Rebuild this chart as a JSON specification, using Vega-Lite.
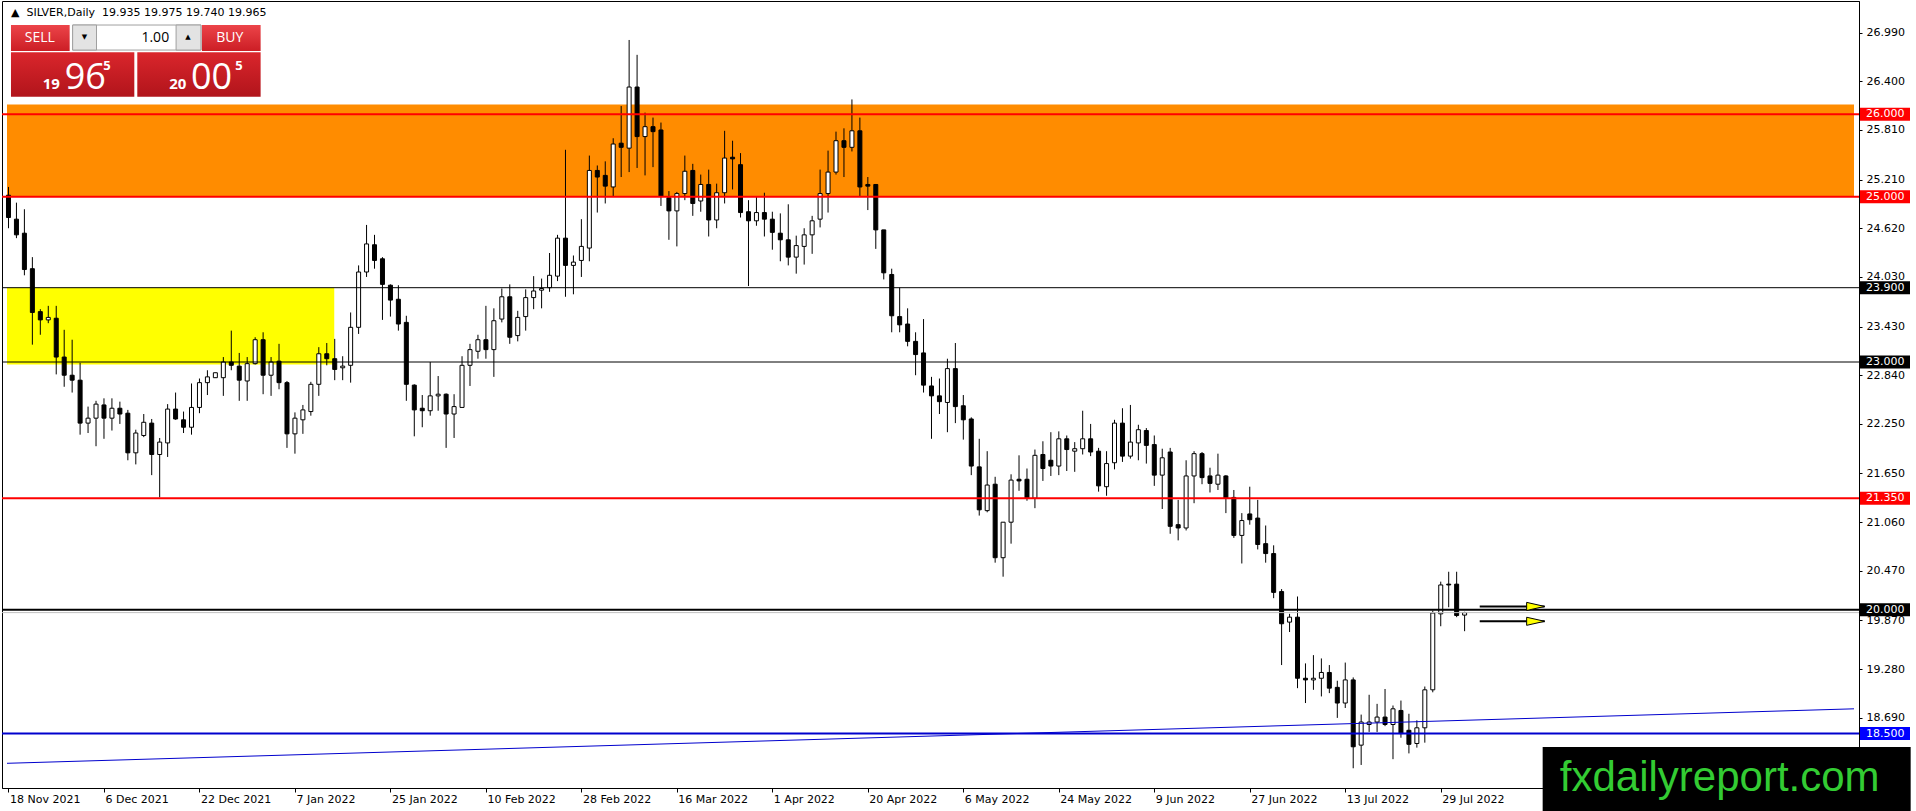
{
  "$schema": "https://vega.github.io/schema/vega-lite/v6.json",
  "autosize": "none",
  "width": 1857,
  "height": 787,
  "padding": {"left": 2, "top": 1, "right": 57, "bottom": 23},
  "background": "white",
  "data": {"values": [{}]},
  "datasets": {
    "candles": [
      {"i":0,"o":25.02,"h":25.12,"l":24.62,"c":24.75},
      {"i":1,"o":24.73,"h":24.93,"l":24.50,"c":24.54},
      {"i":2,"o":24.56,"h":24.85,"l":24.05,"c":24.12},
      {"i":3,"o":24.13,"h":24.27,"l":23.21,"c":23.60},
      {"i":4,"o":23.61,"h":23.64,"l":23.33,"c":23.51},
      {"i":5,"o":23.51,"h":23.68,"l":23.47,"c":23.54},
      {"i":6,"o":23.53,"h":23.68,"l":22.85,"c":23.06},
      {"i":7,"o":23.06,"h":23.39,"l":22.70,"c":22.84},
      {"i":8,"o":22.84,"h":23.27,"l":22.63,"c":22.78},
      {"i":9,"o":22.78,"h":22.99,"l":22.12,"c":22.26},
      {"i":10,"o":22.26,"h":22.46,"l":22.14,"c":22.32},
      {"i":11,"o":22.32,"h":22.53,"l":21.98,"c":22.49},
      {"i":12,"o":22.48,"h":22.56,"l":22.07,"c":22.32},
      {"i":13,"o":22.32,"h":22.56,"l":22.17,"c":22.44},
      {"i":14,"o":22.44,"h":22.52,"l":22.25,"c":22.37},
      {"i":15,"o":22.38,"h":22.42,"l":21.81,"c":21.90},
      {"i":16,"o":21.90,"h":22.18,"l":21.76,"c":22.14},
      {"i":17,"o":22.11,"h":22.37,"l":22.09,"c":22.27},
      {"i":18,"o":22.26,"h":22.31,"l":21.63,"c":21.88},
      {"i":19,"o":21.88,"h":22.08,"l":21.36,"c":22.03},
      {"i":20,"o":22.02,"h":22.49,"l":21.85,"c":22.43},
      {"i":21,"o":22.43,"h":22.63,"l":22.30,"c":22.31},
      {"i":22,"o":22.30,"h":22.40,"l":22.14,"c":22.21},
      {"i":23,"o":22.21,"h":22.74,"l":22.12,"c":22.45},
      {"i":24,"o":22.45,"h":22.80,"l":22.38,"c":22.75},
      {"i":25,"o":22.75,"h":22.90,"l":22.60,"c":22.82},
      {"i":26,"o":22.81,"h":22.87,"l":22.81,"c":22.87},
      {"i":27,"o":22.81,"h":23.06,"l":22.59,"c":23.00},
      {"i":28,"o":23.00,"h":23.38,"l":22.90,"c":22.96},
      {"i":29,"o":22.95,"h":23.11,"l":22.53,"c":22.78},
      {"i":30,"o":22.77,"h":23.06,"l":22.53,"c":22.98},
      {"i":31,"o":22.98,"h":23.30,"l":22.97,"c":23.27},
      {"i":32,"o":23.27,"h":23.36,"l":22.61,"c":22.84},
      {"i":33,"o":22.84,"h":23.06,"l":22.59,"c":23.00},
      {"i":34,"o":23.01,"h":23.22,"l":22.67,"c":22.75},
      {"i":35,"o":22.75,"h":22.77,"l":21.96,"c":22.13},
      {"i":36,"o":22.13,"h":22.39,"l":21.89,"c":22.32},
      {"i":37,"o":22.30,"h":22.48,"l":22.13,"c":22.42},
      {"i":38,"o":22.40,"h":22.76,"l":22.35,"c":22.73},
      {"i":39,"o":22.73,"h":23.18,"l":22.59,"c":23.10},
      {"i":40,"o":23.10,"h":23.23,"l":22.96,"c":23.04},
      {"i":41,"o":23.04,"h":23.28,"l":22.78,"c":22.91},
      {"i":42,"o":22.93,"h":23.07,"l":22.78,"c":22.95},
      {"i":43,"o":22.96,"h":23.60,"l":22.75,"c":23.42},
      {"i":44,"o":23.42,"h":24.17,"l":23.34,"c":24.09},
      {"i":45,"o":24.09,"h":24.66,"l":24.03,"c":24.43},
      {"i":46,"o":24.42,"h":24.54,"l":24.13,"c":24.23},
      {"i":47,"o":24.25,"h":24.27,"l":23.51,"c":23.94},
      {"i":48,"o":23.93,"h":23.94,"l":23.55,"c":23.75},
      {"i":49,"o":23.76,"h":23.93,"l":23.38,"c":23.46},
      {"i":50,"o":23.48,"h":23.56,"l":22.53,"c":22.73},
      {"i":51,"o":22.72,"h":22.73,"l":22.10,"c":22.42},
      {"i":52,"o":22.44,"h":22.60,"l":22.21,"c":22.41},
      {"i":53,"o":22.41,"h":23.00,"l":22.35,"c":22.59},
      {"i":54,"o":22.59,"h":22.83,"l":22.41,"c":22.61},
      {"i":55,"o":22.61,"h":22.62,"l":21.96,"c":22.37},
      {"i":56,"o":22.37,"h":22.61,"l":22.08,"c":22.46},
      {"i":57,"o":22.45,"h":23.07,"l":22.45,"c":22.96},
      {"i":58,"o":22.96,"h":23.22,"l":22.71,"c":23.15},
      {"i":59,"o":23.13,"h":23.33,"l":23.04,"c":23.27},
      {"i":60,"o":23.27,"h":23.68,"l":23.04,"c":23.15},
      {"i":61,"o":23.15,"h":23.65,"l":22.82,"c":23.50},
      {"i":62,"o":23.52,"h":23.89,"l":23.48,"c":23.79},
      {"i":63,"o":23.79,"h":23.94,"l":23.22,"c":23.30},
      {"i":64,"o":23.32,"h":23.62,"l":23.25,"c":23.54},
      {"i":65,"o":23.55,"h":23.88,"l":23.38,"c":23.78},
      {"i":66,"o":23.78,"h":24.04,"l":23.64,"c":23.86},
      {"i":67,"o":23.87,"h":24.01,"l":23.65,"c":23.89},
      {"i":68,"o":23.90,"h":24.32,"l":23.85,"c":24.05},
      {"i":69,"o":24.04,"h":24.54,"l":23.98,"c":24.50},
      {"i":70,"o":24.50,"h":25.57,"l":23.79,"c":24.17},
      {"i":71,"o":24.17,"h":24.29,"l":23.82,"c":24.21},
      {"i":72,"o":24.23,"h":24.73,"l":24.03,"c":24.40},
      {"i":73,"o":24.38,"h":25.50,"l":24.22,"c":25.32},
      {"i":74,"o":25.32,"h":25.38,"l":24.81,"c":25.24},
      {"i":75,"o":25.26,"h":25.43,"l":24.92,"c":25.13},
      {"i":76,"o":25.12,"h":25.71,"l":25.00,"c":25.64},
      {"i":77,"o":25.65,"h":26.10,"l":25.24,"c":25.60},
      {"i":78,"o":25.59,"h":26.90,"l":25.30,"c":26.33},
      {"i":79,"o":26.33,"h":26.72,"l":25.35,"c":25.73},
      {"i":80,"o":25.73,"h":26.02,"l":25.26,"c":25.85},
      {"i":81,"o":25.85,"h":25.96,"l":25.36,"c":25.79},
      {"i":82,"o":25.81,"h":25.90,"l":24.89,"c":25.01},
      {"i":83,"o":24.99,"h":25.07,"l":24.48,"c":24.83},
      {"i":84,"o":24.83,"h":25.06,"l":24.40,"c":25.04},
      {"i":85,"o":25.04,"h":25.50,"l":24.96,"c":25.31},
      {"i":86,"o":25.32,"h":25.40,"l":24.77,"c":24.92},
      {"i":87,"o":24.95,"h":25.27,"l":24.82,"c":25.15},
      {"i":88,"o":25.15,"h":25.33,"l":24.52,"c":24.72},
      {"i":89,"o":24.72,"h":25.16,"l":24.62,"c":25.05},
      {"i":90,"o":25.05,"h":25.80,"l":24.92,"c":25.47},
      {"i":91,"o":25.48,"h":25.68,"l":25.09,"c":25.46},
      {"i":92,"o":25.39,"h":25.53,"l":24.75,"c":24.81},
      {"i":93,"o":24.82,"h":24.96,"l":23.92,"c":24.71},
      {"i":94,"o":24.71,"h":25.01,"l":24.65,"c":24.81},
      {"i":95,"o":24.81,"h":25.05,"l":24.52,"c":24.73},
      {"i":96,"o":24.73,"h":24.82,"l":24.36,"c":24.57},
      {"i":97,"o":24.56,"h":24.80,"l":24.22,"c":24.48},
      {"i":98,"o":24.48,"h":24.91,"l":24.17,"c":24.27},
      {"i":99,"o":24.27,"h":24.53,"l":24.07,"c":24.41},
      {"i":100,"o":24.40,"h":24.62,"l":24.18,"c":24.54},
      {"i":101,"o":24.54,"h":24.77,"l":24.31,"c":24.71},
      {"i":102,"o":24.73,"h":25.33,"l":24.63,"c":25.04},
      {"i":103,"o":25.04,"h":25.56,"l":24.81,"c":25.30},
      {"i":104,"o":25.30,"h":25.79,"l":25.27,"c":25.68},
      {"i":105,"o":25.68,"h":25.83,"l":25.24,"c":25.60},
      {"i":106,"o":25.60,"h":26.18,"l":25.55,"c":25.80},
      {"i":107,"o":25.80,"h":25.96,"l":25.01,"c":25.12},
      {"i":108,"o":25.15,"h":25.24,"l":24.84,"c":25.13},
      {"i":109,"o":25.15,"h":25.15,"l":24.37,"c":24.60},
      {"i":110,"o":24.60,"h":24.60,"l":24.00,"c":24.08},
      {"i":111,"o":24.06,"h":24.13,"l":23.36,"c":23.56},
      {"i":112,"o":23.55,"h":23.90,"l":23.36,"c":23.45},
      {"i":113,"o":23.46,"h":23.65,"l":23.19,"c":23.25},
      {"i":114,"o":23.25,"h":23.36,"l":22.84,"c":23.09},
      {"i":115,"o":23.11,"h":23.52,"l":22.63,"c":22.72},
      {"i":116,"o":22.71,"h":22.82,"l":22.07,"c":22.59},
      {"i":117,"o":22.59,"h":22.80,"l":22.37,"c":22.52},
      {"i":118,"o":22.51,"h":23.04,"l":22.15,"c":22.92},
      {"i":119,"o":22.92,"h":23.23,"l":22.26,"c":22.46},
      {"i":120,"o":22.47,"h":22.60,"l":22.06,"c":22.30},
      {"i":121,"o":22.31,"h":22.33,"l":21.63,"c":21.74},
      {"i":122,"o":21.73,"h":22.07,"l":21.14,"c":21.21},
      {"i":123,"o":21.20,"h":21.92,"l":21.18,"c":21.51},
      {"i":124,"o":21.52,"h":21.61,"l":20.57,"c":20.63},
      {"i":125,"o":20.63,"h":21.06,"l":20.40,"c":21.06},
      {"i":126,"o":21.06,"h":21.64,"l":20.80,"c":21.57},
      {"i":127,"o":21.58,"h":21.87,"l":21.44,"c":21.56},
      {"i":128,"o":21.58,"h":21.71,"l":21.32,"c":21.35},
      {"i":129,"o":21.35,"h":21.94,"l":21.23,"c":21.87},
      {"i":130,"o":21.88,"h":22.04,"l":21.56,"c":21.71},
      {"i":131,"o":21.81,"h":22.15,"l":21.62,"c":21.74},
      {"i":132,"o":21.74,"h":22.16,"l":21.63,"c":22.07},
      {"i":133,"o":22.07,"h":22.11,"l":21.68,"c":21.94},
      {"i":134,"o":21.92,"h":22.03,"l":21.67,"c":21.95},
      {"i":135,"o":21.95,"h":22.41,"l":21.88,"c":22.07},
      {"i":136,"o":22.07,"h":22.25,"l":21.86,"c":21.91},
      {"i":137,"o":21.92,"h":21.96,"l":21.43,"c":21.50},
      {"i":138,"o":21.49,"h":21.92,"l":21.38,"c":21.77},
      {"i":139,"o":21.78,"h":22.30,"l":21.70,"c":22.26},
      {"i":140,"o":22.26,"h":22.44,"l":21.79,"c":21.86},
      {"i":141,"o":21.86,"h":22.48,"l":21.83,"c":22.03},
      {"i":142,"o":22.02,"h":22.24,"l":21.81,"c":22.18},
      {"i":143,"o":22.17,"h":22.20,"l":21.77,"c":21.99},
      {"i":144,"o":22.00,"h":22.11,"l":21.50,"c":21.63},
      {"i":145,"o":21.63,"h":21.95,"l":21.22,"c":21.84},
      {"i":146,"o":21.91,"h":21.96,"l":20.92,"c":21.01},
      {"i":147,"o":21.03,"h":21.33,"l":20.84,"c":20.99},
      {"i":148,"o":20.99,"h":21.81,"l":20.96,"c":21.62},
      {"i":149,"o":21.62,"h":21.92,"l":21.29,"c":21.89},
      {"i":150,"o":21.89,"h":21.91,"l":21.52,"c":21.60},
      {"i":151,"o":21.62,"h":21.72,"l":21.42,"c":21.53},
      {"i":152,"o":21.52,"h":21.89,"l":21.45,"c":21.63},
      {"i":153,"o":21.62,"h":21.63,"l":21.17,"c":21.35},
      {"i":154,"o":21.36,"h":21.45,"l":20.87,"c":20.90},
      {"i":155,"o":20.90,"h":21.17,"l":20.56,"c":21.08},
      {"i":156,"o":21.16,"h":21.49,"l":21.03,"c":21.09},
      {"i":157,"o":21.11,"h":21.33,"l":20.73,"c":20.79},
      {"i":158,"o":20.80,"h":21.02,"l":20.57,"c":20.68},
      {"i":159,"o":20.68,"h":20.78,"l":20.14,"c":20.21},
      {"i":160,"o":20.22,"h":20.25,"l":19.33,"c":19.83},
      {"i":161,"o":19.85,"h":19.95,"l":19.73,"c":19.91},
      {"i":162,"o":19.91,"h":20.16,"l":19.05,"c":19.17},
      {"i":163,"o":19.17,"h":19.35,"l":18.87,"c":19.15},
      {"i":164,"o":19.15,"h":19.45,"l":19.03,"c":19.17},
      {"i":165,"o":19.17,"h":19.41,"l":18.95,"c":19.24},
      {"i":166,"o":19.24,"h":19.33,"l":18.99,"c":19.05},
      {"i":167,"o":19.06,"h":19.14,"l":18.69,"c":18.87},
      {"i":168,"o":18.87,"h":19.36,"l":18.81,"c":19.15},
      {"i":169,"o":19.15,"h":19.18,"l":18.08,"c":18.34},
      {"i":170,"o":18.36,"h":18.73,"l":18.12,"c":18.64},
      {"i":171,"o":18.61,"h":18.97,"l":18.52,"c":18.64},
      {"i":172,"o":18.64,"h":18.86,"l":18.52,"c":18.70},
      {"i":173,"o":18.70,"h":19.04,"l":18.59,"c":18.61},
      {"i":174,"o":18.61,"h":18.84,"l":18.19,"c":18.80},
      {"i":175,"o":18.78,"h":18.90,"l":18.45,"c":18.50},
      {"i":176,"o":18.54,"h":18.74,"l":18.26,"c":18.37},
      {"i":177,"o":18.38,"h":18.66,"l":18.33,"c":18.57},
      {"i":178,"o":18.57,"h":19.07,"l":18.39,"c":19.03},
      {"i":179,"o":19.03,"h":19.99,"l":19.00,"c":19.96},
      {"i":180,"o":19.95,"h":20.34,"l":19.80,"c":20.30},
      {"i":181,"o":20.31,"h":20.46,"l":20.03,"c":20.30},
      {"i":182,"o":20.31,"h":20.46,"l":19.91,"c":19.93},
      {"i":183,"o":19.935,"h":19.975,"l":19.74,"c":19.965}
    ],
    "levels": [
      {"price": 26.0, "kind": "resistance"},
      {"price": 25.0, "kind": "resistance"},
      {"price": 23.9, "kind": "range"},
      {"price": 23.0, "kind": "range"},
      {"price": 21.35, "kind": "resistance"},
      {"price": 20.0, "kind": "pivot"},
      {"price": 18.5, "kind": "support"}
    ],
    "zones": [
      {"zone": "supply", "t0": -0.1875, "t1": 231.9375, "lo": 25.0, "hi": 26.12},
      {"zone": "demand", "t0": -0.1875, "t1": 40.94, "lo": 22.97, "hi": 23.9}
    ],
    "trend": [
      {"t0": -0.1875, "p0": 18.14, "t1": 231.9375, "p1": 18.80}
    ],
    "arrows": [
      {"t0": 184.9, "t1": 193.06, "price": 20.04},
      {"t0": 184.9, "t1": 193.06, "price": 19.86}
    ]
  },
  "layer": [
    {
      "data": {"name": "zones"},
      "mark": {"type": "rect"},
      "encoding": {
        "x": {"field": "t0", "type": "quantitative", "title": null},
        "x2": {"field": "t1"},
        "y": {"field": "lo", "type": "quantitative", "title": null},
        "y2": {"field": "hi"},
        "fill": {"condition": {"test": "datum.zone == 'supply'", "value": "#FF8C00"}, "value": "#FFFF00"}
      }
    },
    {
      "data": {"name": "candles"},
      "mark": {"type": "rule", "color": "black", "strokeWidth": 1},
      "encoding": {
        "x": {
          "field": "i",
          "type": "quantitative",
          "title": null,
          "scale": {"domain": [-0.1875, 231.9375], "nice": false, "zero": false},
          "axis": {
            "values": [0, 12, 24, 36, 48, 60, 72, 84, 96, 108, 120, 132, 144, 156, 168, 180],
            "labelExpr": "['18 Nov 2021','6 Dec 2021','22 Dec 2021','7 Jan 2022','25 Jan 2022','10 Feb 2022','28 Feb 2022','16 Mar 2022','1 Apr 2022','20 Apr 2022','6 May 2022','24 May 2022','9 Jun 2022','27 Jun 2022','13 Jul 2022','29 Jul 2022'][round(datum.value / 12)]",
            "labelAlign": "left",
            "labelBaseline": "top",
            "labelOffset": 1,
            "tickSize": 4,
            "labelPadding": 1,
            "labelFlush": false,
            "labelOverlap": false
          }
        },
        "y": {
          "field": "l",
          "type": "quantitative",
          "title": null,
          "scale": {"domain": [17.841, 27.372], "nice": false, "zero": false},
          "axis": {
            "orient": "right",
            "values": [26.99, 26.4, 25.81, 25.21, 24.62, 24.03, 23.43, 22.84, 22.25, 21.65, 21.06, 20.47, 19.87, 19.28, 18.69],
            "format": ".3f",
            "tickSize": 3,
            "labelPadding": 4,
            "labelAlign": "left",
            "labelBaseline": "middle",
            "labelFlush": false,
            "labelOverlap": false
          }
        },
        "y2": {"field": "h"}
      }
    },
    {
      "data": {"name": "candles"},
      "mark": {"type": "bar", "width": 4, "stroke": "black", "strokeWidth": 1},
      "encoding": {
        "x": {"field": "i", "type": "quantitative", "title": null},
        "y": {"field": "o", "type": "quantitative", "title": null},
        "y2": {"field": "c"},
        "fill": {"condition": {"test": "datum.c < datum.o", "value": "black"}, "value": "white"}
      }
    },
    {
      "data": {"name": "levels"},
      "mark": {"type": "rule"},
      "encoding": {
        "y": {"field": "price", "type": "quantitative", "title": null},
        "stroke": {
          "condition": [
            {"test": "datum.kind == 'resistance'", "value": "#FF0000"},
            {"test": "datum.kind == 'support'", "value": "#0000CD"}
          ],
          "value": "black"
        },
        "strokeWidth": {"condition": {"test": "datum.kind == 'range'", "value": 1}, "value": 2}
      }
    },
    {
      "data": {"name": "candles"},
      "transform": [{"filter": "datum.i == 183"}],
      "mark": {"type": "rule", "color": "#C0C0C0", "strokeWidth": 1},
      "encoding": {
        "y": {"field": "c", "type": "quantitative", "title": null}
      }
    },
    {
      "data": {"name": "trend"},
      "mark": {"type": "rule", "color": "#0000CD", "strokeWidth": 1},
      "encoding": {
        "x": {"field": "t0", "type": "quantitative", "title": null},
        "x2": {"field": "t1"},
        "y": {"field": "p0", "type": "quantitative", "title": null},
        "y2": {"field": "p1"}
      }
    },
    {
      "data": {"name": "arrows"},
      "mark": {"type": "rule", "color": "black", "strokeWidth": 2},
      "encoding": {
        "x": {"field": "t0", "type": "quantitative", "title": null},
        "x2": {"field": "t1"},
        "y": {"field": "price", "type": "quantitative", "title": null}
      }
    },
    {
      "data": {"name": "arrows"},
      "mark": {"type": "point", "shape": "M-2,-0.45L0,0L-2,0.45Z", "size": 324, "filled": true, "fill": "#FFFF00", "stroke": "black", "strokeWidth": 1, "opacity": 1},
      "encoding": {
        "x": {"field": "t1", "type": "quantitative", "title": null},
        "y": {"field": "price", "type": "quantitative", "title": null}
      }
    },
    {
      "data": {"name": "levels"},
      "mark": {"type": "point", "shape": "M-1,-0.26H1V0.26H-1Z", "size": 2500, "filled": true, "opacity": 1, "strokeWidth": 0, "xOffset": 26},
      "encoding": {
        "x": {"value": "width"},
        "y": {"field": "price", "type": "quantitative", "title": null},
        "fill": {
          "condition": [
            {"test": "datum.kind == 'resistance'", "value": "#FF0000"},
            {"test": "datum.kind == 'support'", "value": "#0000FF"}
          ],
          "value": "black"
        }
      }
    },
    {
      "data": {"name": "levels"},
      "mark": {"type": "text", "align": "left", "baseline": "middle", "dx": 7, "font": "DejaVu Sans", "fontSize": 11, "color": "white"},
      "encoding": {
        "x": {"value": "width"},
        "y": {"field": "price", "type": "quantitative", "title": null},
        "text": {"field": "price", "type": "quantitative", "format": ".3f"}
      }
    },
    {
      "mark": {"type": "text", "text": "▲\u00a0\u00a0SILVER,Daily\u00a0 19.935 19.975 19.740 19.965", "align": "left", "baseline": "middle", "font": "DejaVu Sans", "fontSize": 11, "color": "black"},
      "encoding": {"x": {"datum": 0.31}, "y": {"datum": 27.227}}
    },
    {
      "mark": {"type": "rect", "fill": {"gradient": "linear", "x1": 0, "y1": 0, "x2": 0, "y2": 1, "stops": [{"offset": 0, "color": "#EC4449"}, {"offset": 1, "color": "#CC1E25"}]}},
      "encoding": {"x": {"datum": 0.3125}, "x2": {"datum": 7.6875}, "y": {"datum": 27.081}, "y2": {"datum": 26.766}}
    },
    {
      "mark": {"type": "rect", "fill": {"gradient": "linear", "x1": 0, "y1": 0, "x2": 0, "y2": 1, "stops": [{"offset": 0, "color": "#DA262C"}, {"offset": 1, "color": "#B1141B"}]}},
      "encoding": {"x": {"datum": 0.3125}, "x2": {"datum": 15.8125}, "y": {"datum": 26.75}, "y2": {"datum": 26.213}}
    },
    {
      "mark": {"type": "rect", "fill": "white", "stroke": "#A0A0A0", "strokeWidth": 1},
      "encoding": {"x": {"datum": 8.0625}, "x2": {"datum": 24.1875}, "y": {"datum": 27.081}, "y2": {"datum": 26.778}}
    },
    {
      "mark": {"type": "rect", "fill": "#E3E3E3", "stroke": "#A0A0A0", "strokeWidth": 1},
      "encoding": {"x": {"datum": 8.0625}, "x2": {"datum": 11.0625}, "y": {"datum": 27.081}, "y2": {"datum": 26.778}}
    },
    {
      "mark": {"type": "rect", "fill": "#E3E3E3", "stroke": "#A0A0A0", "strokeWidth": 1},
      "encoding": {"x": {"datum": 21.0625}, "x2": {"datum": 24.1875}, "y": {"datum": 27.081}, "y2": {"datum": 26.778}}
    },
    {
      "mark": {"type": "rect", "fill": {"gradient": "linear", "x1": 0, "y1": 0, "x2": 0, "y2": 1, "stops": [{"offset": 0, "color": "#EC4449"}, {"offset": 1, "color": "#CC1E25"}]}},
      "encoding": {"x": {"datum": 24.3125}, "x2": {"datum": 31.6875}, "y": {"datum": 27.081}, "y2": {"datum": 26.766}}
    },
    {
      "mark": {"type": "rect", "fill": {"gradient": "linear", "x1": 0, "y1": 0, "x2": 0, "y2": 1, "stops": [{"offset": 0, "color": "#DA262C"}, {"offset": 1, "color": "#B1141B"}]}},
      "encoding": {"x": {"datum": 16.1875}, "x2": {"datum": 31.6875}, "y": {"datum": 26.75}, "y2": {"datum": 26.213}}
    },
    {
      "mark": {"type": "text", "text": "SELL", "align": "center", "baseline": "middle", "font": "Open Sans", "fontSize": 14, "color": "white"},
      "encoding": {"x": {"datum": 3.94}, "y": {"datum": 26.918}}
    },
    {
      "mark": {"type": "text", "text": "BUY", "align": "center", "baseline": "middle", "font": "Open Sans", "fontSize": 14, "color": "white"},
      "encoding": {"x": {"datum": 27.81}, "y": {"datum": 26.918}}
    },
    {
      "mark": {"type": "text", "text": "1.00", "align": "right", "baseline": "middle", "font": "Open Sans", "fontSize": 14, "color": "black"},
      "encoding": {"x": {"datum": 20.19}, "y": {"datum": 26.924}}
    },
    {
      "mark": {"type": "text", "text": "▼", "align": "center", "baseline": "middle", "font": "DejaVu Sans", "fontSize": 7, "color": "black"},
      "encoding": {"x": {"datum": 9.56}, "y": {"datum": 26.93}}
    },
    {
      "mark": {"type": "text", "text": "▲", "align": "center", "baseline": "middle", "font": "DejaVu Sans", "fontSize": 7, "color": "black"},
      "encoding": {"x": {"datum": 22.56}, "y": {"datum": 26.93}}
    },
    {
      "mark": {"type": "text", "text": "19", "align": "left", "baseline": "alphabetic", "font": "Open Sans", "fontSize": 15, "fontWeight": "bold", "color": "white"},
      "encoding": {"x": {"datum": 4.31}, "y": {"datum": 26.306}}
    },
    {
      "mark": {"type": "text", "text": "96", "align": "left", "baseline": "alphabetic", "font": "Open Sans", "fontSize": 36, "color": "white"},
      "encoding": {"x": {"datum": 7.06}, "y": {"datum": 26.306}}
    },
    {
      "mark": {"type": "text", "text": "5", "align": "left", "baseline": "alphabetic", "font": "Open Sans", "fontSize": 13, "fontWeight": "bold", "color": "white"},
      "encoding": {"x": {"datum": 11.9}, "y": {"datum": 26.536}}
    },
    {
      "mark": {"type": "text", "text": "20", "align": "left", "baseline": "alphabetic", "font": "Open Sans", "fontSize": 15, "fontWeight": "bold", "color": "white"},
      "encoding": {"x": {"datum": 20.19}, "y": {"datum": 26.306}}
    },
    {
      "mark": {"type": "text", "text": "00", "align": "left", "baseline": "alphabetic", "font": "Open Sans", "fontSize": 36, "color": "white"},
      "encoding": {"x": {"datum": 22.94}, "y": {"datum": 26.306}}
    },
    {
      "mark": {"type": "text", "text": "5", "align": "left", "baseline": "alphabetic", "font": "Open Sans", "fontSize": 13, "fontWeight": "bold", "color": "white"},
      "encoding": {"x": {"datum": 28.5}, "y": {"datum": 26.536}}
    },
    {
      "mark": {"type": "rect", "fill": "black"},
      "encoding": {"x": {"datum": 192.81}, "x2": {"datum": 239.06}, "y": {"datum": 18.337}, "y2": {"datum": 17.562}}
    },
    {
      "mark": {"type": "text", "text": "fxdailyreport.com", "align": "center", "baseline": "middle", "font": "Liberation Sans", "fontSize": 42, "color": "#33CC33"},
      "encoding": {"x": {"datum": 215.06}, "y": {"datum": 17.962}}
    }
  ],
  "config": {
    "font": "DejaVu Sans",
    "view": {"stroke": "black", "strokeWidth": 1},
    "axis": {
      "grid": false,
      "labelFont": "DejaVu Sans",
      "labelFontSize": 11,
      "labelColor": "black",
      "tickColor": "black",
      "domainColor": "black",
      "title": null
    }
  }
}
